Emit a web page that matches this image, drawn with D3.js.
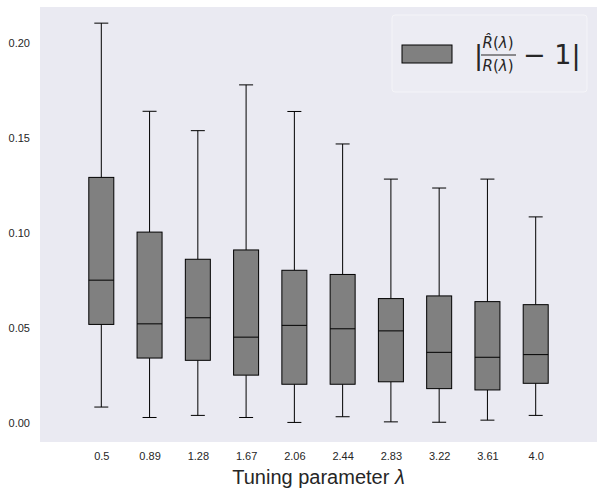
<!DOCTYPE html>
<html>
<head>
<meta charset="utf-8">
<script src="https://cdn.jsdelivr.net/npm/d3@7"></script>
<style>
	body { margin: 0; background: #fff; }
	text { font-family: "DejaVu Sans", sans-serif; }
</style>
</head>
<body>
<svg width="603" height="495"></svg>
<script>
'use strict';
// data
let aLambda = ["0.5", "0.89", "1.28", "1.67", "2.06", "2.44", "2.83", "3.22", "3.61", "4.0"]
let aWhiskLo = [0.0085, 0.0030, 0.0041, 0.0030, 0.0004, 0.0034, 0.0007, 0.0005, 0.0016, 0.0041]
let aQ1 = [0.0520, 0.0343, 0.0331, 0.0253, 0.0205, 0.0205, 0.0218, 0.0182, 0.0175, 0.0210]
let aMedian = [0.0753, 0.0523, 0.0555, 0.0453, 0.0515, 0.0497, 0.0486, 0.0373, 0.0347, 0.0361]
let aQ3 = [0.1294, 0.1006, 0.0863, 0.0912, 0.0805, 0.0783, 0.0656, 0.0670, 0.0640, 0.0624]
let aWhiskHi = [0.2106, 0.1642, 0.1540, 0.1781, 0.1641, 0.1470, 0.1285, 0.1238, 0.1285, 0.1086]
let aYTicks = [0, 0.05, 0.10, 0.15, 0.20]

let tData = aLambda.map((l, i) => {
	return {lam: l, lo: aWhiskLo[i], q1: aQ1[i], med: aMedian[i], q3: aQ3[i], hi: aWhiskHi[i]}})

let svg = d3.select("svg")
let dLeft = 40, dRight = 597, dTop = 7, dBottom = 442

// axes background
svg.append("rect")
	.attr("x", dLeft).attr("y", dTop)
	.attr("width", dRight - dLeft).attr("height", dBottom - dTop)
	.attr("fill", "#eaeaf2")

let x = d3.scalePoint().domain(aLambda).range([dLeft, dRight]).padding(1.27)
let y = d3.scaleLinear().domain([-0.0099, 0.2191]).range([dBottom, dTop])

let dBoxW = 25, dCapW = 14

// y axis tick labels
let yAxis = svg.append("g")
	.attr("transform", `translate(${dLeft},0)`)
	.call(d3.axisLeft(y).tickValues(aYTicks).tickFormat(d3.format(".2f")).tickSize(0).tickPadding(10))
yAxis.select(".domain").remove()
yAxis.selectAll("text").attr("font-size", 11).attr("fill", "#262626")
	.style("font-family", "Arial, 'Liberation Sans', sans-serif")

// x axis tick labels
let xAxis = svg.append("g")
	.attr("transform", `translate(0,${dBottom})`)
	.call(d3.axisBottom(x).tickSize(0).tickPadding(10))
xAxis.select(".domain").remove()
xAxis.selectAll("text").attr("font-size", 11).attr("fill", "#262626")
	.style("font-family", "Arial, 'Liberation Sans', sans-serif")

// axis title
svg.append("text")
	.attr("x", (dLeft + dRight) / 2).attr("y", 484)
	.attr("text-anchor", "middle")
	.attr("font-size", 20).attr("fill", "#262626")
	.style("font-family", "Arial, 'Liberation Sans', sans-serif")
	.text("Tuning parameter ")
	.append("tspan").attr("font-style", "italic").text("λ")

// boxes
let gBox = svg.append("g").selectAll("g")
	.data(tData).enter().append("g")

// whiskers
gBox.append("line")
	.attr("x1", d => x(d.lam)).attr("x2", d => x(d.lam))
	.attr("y1", d => y(d.hi)).attr("y2", d => y(d.q3))
	.attr("stroke", "#000").attr("stroke-width", 1)
gBox.append("line")
	.attr("x1", d => x(d.lam)).attr("x2", d => x(d.lam))
	.attr("y1", d => y(d.q1)).attr("y2", d => y(d.lo))
	.attr("stroke", "#000").attr("stroke-width", 1)
// caps
gBox.append("line")
	.attr("x1", d => x(d.lam) - dCapW / 2).attr("x2", d => x(d.lam) + dCapW / 2)
	.attr("y1", d => y(d.hi)).attr("y2", d => y(d.hi))
	.attr("stroke", "#000").attr("stroke-width", 1)
gBox.append("line")
	.attr("x1", d => x(d.lam) - dCapW / 2).attr("x2", d => x(d.lam) + dCapW / 2)
	.attr("y1", d => y(d.lo)).attr("y2", d => y(d.lo))
	.attr("stroke", "#000").attr("stroke-width", 1)
// box body
gBox.append("rect")
	.attr("x", d => x(d.lam) - dBoxW / 2).attr("width", dBoxW)
	.attr("y", d => y(d.q3)).attr("height", d => y(d.q1) - y(d.q3))
	.attr("fill", "#808080").attr("stroke", "#000").attr("stroke-width", 1)
// median
gBox.append("line")
	.attr("x1", d => x(d.lam) - dBoxW / 2).attr("x2", d => x(d.lam) + dBoxW / 2)
	.attr("y1", d => y(d.med)).attr("y2", d => y(d.med))
	.attr("stroke", "#000").attr("stroke-width", 1)

// legend
let gLeg = svg.append("g")
gLeg.append("rect")
	.attr("x", 392).attr("y", 15).attr("width", 195).attr("height", 77).attr("rx", 3)
	.attr("fill", "#ececf3").attr("stroke", "#f4f4f8").attr("stroke-width", 1)
gLeg.append("rect")
	.attr("x", 402).attr("y", 45).attr("width", 50).attr("height", 18)
	.attr("fill", "#808080").attr("stroke", "#000").attr("stroke-width", 1)
gLeg.append("text").attr("x", 474).attr("y", 64).attr("font-size", 27).attr("fill", "#262626").text("|")
gLeg.append("text").attr("x", 498).attr("y", 48).attr("font-size", 15).attr("text-anchor", "middle")
	.attr("fill", "#262626")
	.html('<tspan font-style="italic">R&#x302;</tspan>(<tspan font-style="italic">λ</tspan>)')
gLeg.append("line").attr("x1", 481).attr("x2", 516).attr("y1", 55).attr("y2", 55)
	.attr("stroke", "#262626").attr("stroke-width", 1)
gLeg.append("text").attr("x", 498).attr("y", 71).attr("font-size", 15).attr("text-anchor", "middle")
	.attr("fill", "#262626")
	.html('<tspan font-style="italic">R</tspan>(<tspan font-style="italic">λ</tspan>)')
gLeg.append("text").attr("x", 523).attr("y", 64).attr("font-size", 27).attr("fill", "#262626").text("− 1|")
</script>
</body>
</html>
